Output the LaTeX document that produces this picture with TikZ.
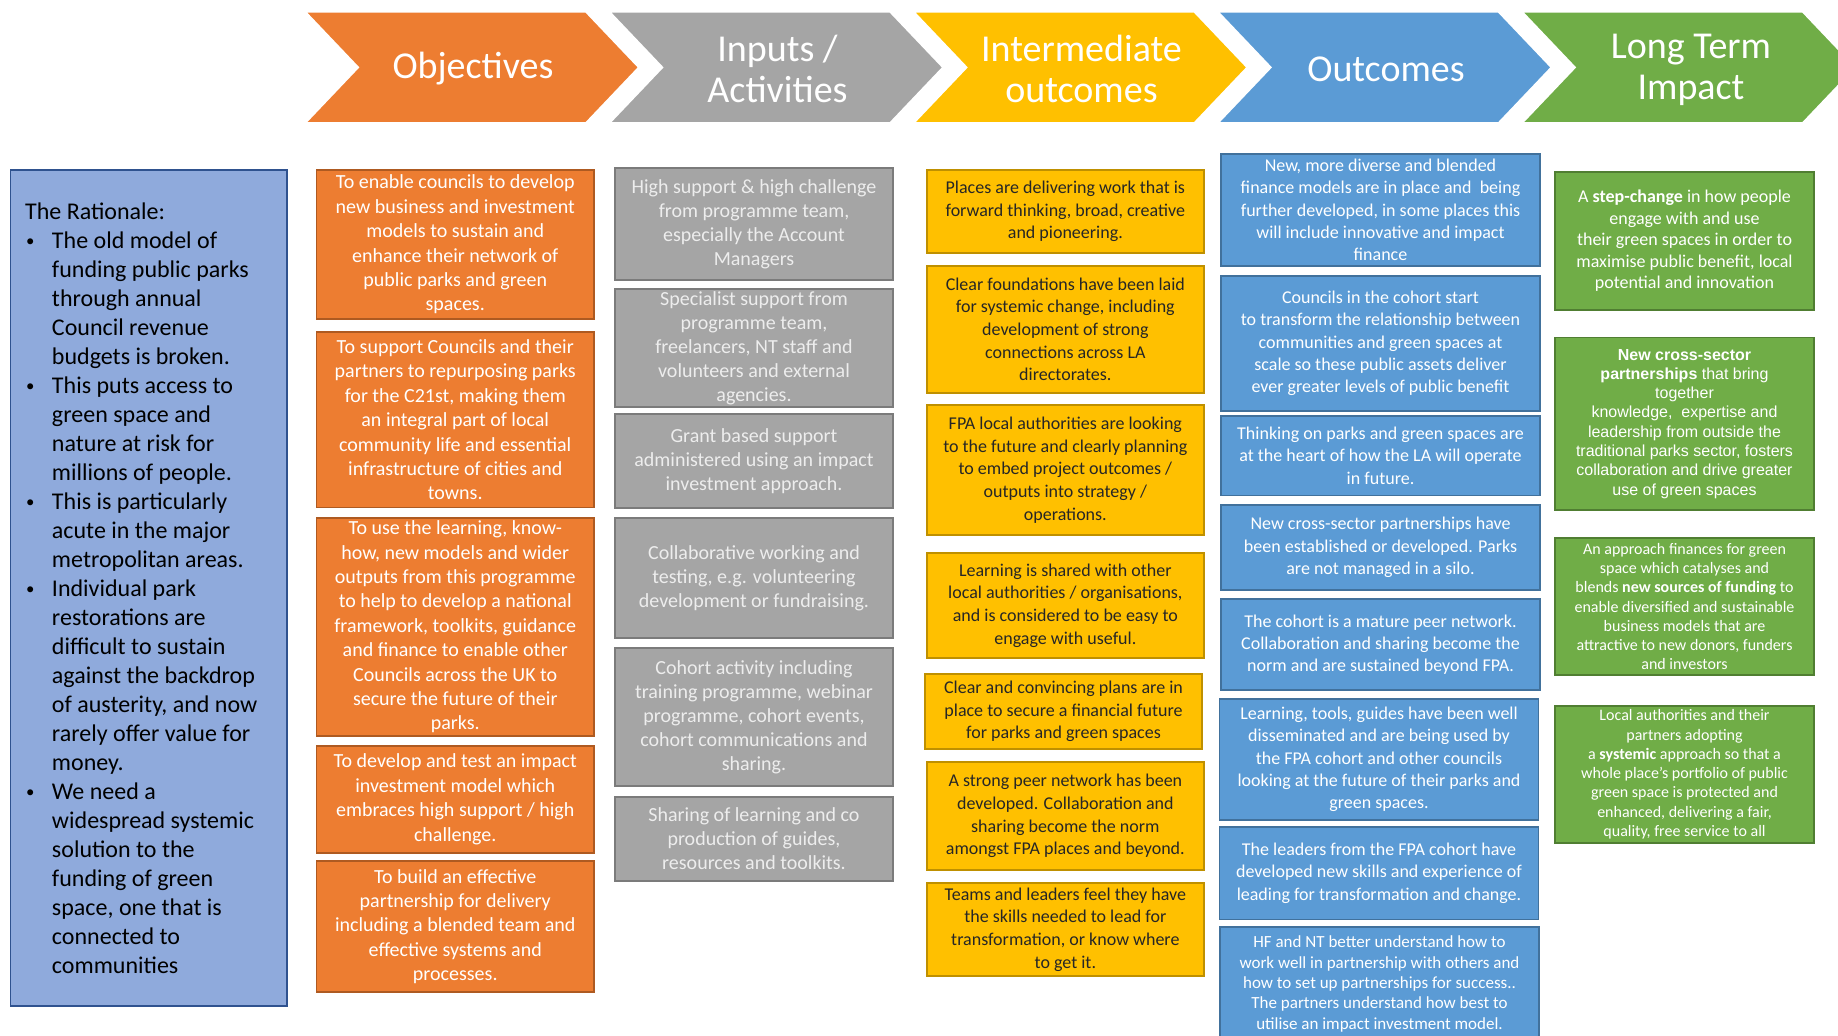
\documentclass[tikz,border=0pt]{standalone}
\usepackage{graphicx}
\usepackage{fontspec}
\setmainfont{Carlito}
\newfontfamily\arialfont{Liberation Sans}
\usetikzlibrary{positioning}

\definecolor{objC}{HTML}{ED7D31} \definecolor{objD}{HTML}{AE5A21}
\definecolor{inpC}{HTML}{A5A5A5} \definecolor{inpD}{HTML}{7B7B7B}
\definecolor{intC}{HTML}{FFC000} \definecolor{intD}{HTML}{BF9000}
\definecolor{outC}{HTML}{5B9BD5} \definecolor{outD}{HTML}{41719C}
\definecolor{impC}{HTML}{70AD47} \definecolor{impD}{HTML}{507E32}
\definecolor{ratC}{HTML}{8FAADC} \definecolor{ratD}{HTML}{2F528F}

\newcommand{\fsz}[2]{\fontsize{#1bp}{#2bp}\selectfont}
\newcommand{\rbul}{\makebox[26.9bp][l]{\hspace{1bp}\raisebox{1.5bp}{\scalebox{0.7}{\textbullet}}}}
\newcommand{\rind}{\hspace*{26.9bp}}

\begin{document}
\begin{tikzpicture}[x=1bp,y=-1bp]
    \tikzstyle{box}=[rectangle,draw,line width=1.8bp,inner sep=0pt,align=center]
    \tikzstyle{objbox}=[box,fill=objC,draw=objD,text=white,minimum width=277.5bp,font=\fsz{20}{24.4}]
    \tikzstyle{inpbox}=[box,fill=inpC,draw=inpD,text=white!93!black,minimum width=278bp,font=\fsz{20}{24}]
    \tikzstyle{intbox}=[box,fill=intC,draw=intD,text=black!85,minimum width=277.3bp,font=\fsz{18}{22.7}]
    \tikzstyle{outbox}=[box,fill=outC,draw=outD,text=white,minimum width=319bp,font=\fsz{18}{22.3}]
    \tikzstyle{impbox}=[box,fill=impC,draw=impD,text=white,minimum width=259bp,font=\fsz{16}{19.3}]
    \tikzstyle{head}=[text=white,align=center,font=\fsz{38}{41}]

    \useasboundingbox (0,0) rectangle (1838,1035);
    \clip (0,0) rectangle (1838,1035);

    % header arrows
    \foreach \num/\col in {0/objC,1/inpC,2/intC,3/outC,4/impC}
        \filldraw[fill=\col,draw=white,line width=2bp] ({305+304.2*\num},11.7) -- ++(281,0) -- ++(53,55.7) -- ++(-53,55.7) -- ++(-281,0) -- ++(53,-55.7) -- cycle;

    \node[head] (H-1) at (473,69) {Objectives};
    \node[head] (H-2) at (777.5,68.5) {Inputs /\\Activities};
    \node[head] (H-3) at (1081.5,68.5) {Intermediate\\outcomes};
    \node[head] (H-4) at (1386,69) {Outcomes};
    \node[head] (H-5) at (1691,69.5) {Long Term\\Impact};

    % rationale
    \node[box,fill=ratC,draw=ratD,minimum width=276.5bp,minimum height=836bp] (R) at (148.75,588) {};
    \node[anchor=west,align=left,inner sep=0pt,font=\fsz{24}{29}] (R-txt) at ([xshift=15.3bp]R.west) {%
        The Rationale:\\
        \rbul The old model of\\
        \rind funding public parks\\
        \rind through annual\\
        \rind Council revenue\\
        \rind budgets is broken.\\
        \rbul This puts access to\\
        \rind green space and\\
        \rind nature at risk for\\
        \rind millions of people.\\
        \rbul This is particularly\\
        \rind acute in the major\\
        \rind metropolitan areas.\\
        \rbul Individual park\\
        \rind restorations are\\
        \rind difficult to sustain\\
        \rind against the backdrop\\
        \rind of austerity, and now\\
        \rind rarely offer value for\\
        \rind money.\\
        \rbul We need a\\
        \rind widespread systemic\\
        \rind solution to the\\
        \rind funding of green\\
        \rind space, one that is\\
        \rind connected to\\
        \rind communities};

    % objectives
    \node[objbox,minimum height=149bp] (O-1) at (455.25,244.5) {To enable councils to develop\\new business and investment\\models to sustain and\\enhance their network of\\public parks and green\\spaces.};
    \node[objbox,minimum height=175.5bp] (O-2) at (455.25,419.75) {To support Councils and their\\partners to repurposing parks\\for the C21st, making them\\an integral part of local\\community life and essential\\infrastructure of cities and\\towns.};
    \node[objbox,minimum height=218bp] (O-3) at (455.25,627) {To use the learning, know-\\how, new models and wider\\outputs from this programme\\to help to develop a national\\framework, toolkits, guidance\\and finance to enable other\\Councils across the UK to\\secure the future of their\\parks.};
    \node[objbox,minimum height=106.7bp] (O-4) at (455.25,799.35) {To develop and test an impact\\investment model which\\embraces high support / high\\challenge.};
    \node[objbox,minimum height=131bp] (O-5) at (455.25,926.5) {To build an effective\\partnership for delivery\\including a blended team and\\effective systems and\\processes.};

    % inputs / activities
    \node[inpbox,minimum height=112bp] (I-1) at (754,224) {High support \& high challenge\\from programme team,\\especially the Account\\Managers};
    \node[inpbox,minimum height=118bp] (I-2) at (754,348) {Specialist support from\\programme team,\\freelancers, NT staff and\\volunteers and external\\agencies.};
    \node[inpbox,minimum height=94bp] (I-3) at (754,461) {Grant based support\\administered using an impact\\investment approach.};
    \node[inpbox,minimum height=120bp] (I-4) at (754,578) {Collaborative working and\\testing, e.g. volunteering\\development or fundraising.};
    \node[inpbox,minimum height=138bp] (I-5) at (754,717) {Cohort activity including\\training programme, webinar\\programme, cohort events,\\cohort communications and\\sharing.};
    \node[inpbox,minimum height=84bp] (I-6) at (754,839) {Sharing of learning and co\\production of guides,\\resources and toolkits.};

    % intermediate outcomes
    \node[intbox,minimum height=82.7bp] (M-1) at (1065.35,211.35) {Places are delivering work that is\\forward thinking, broad, creative\\and pioneering.};
    \node[intbox,minimum height=126.7bp] (M-2) at (1065.35,329.35) {Clear foundations have been laid\\for systemic change, including\\development of strong\\connections across LA\\directorates.};
    \node[intbox,minimum height=130bp] (M-3) at (1065.35,470) {FPA local authorities are looking\\to the future and clearly planning\\to embed project outcomes /\\outputs into strategy /\\operations.};
    \node[intbox,minimum height=104.7bp] (M-4) at (1065.35,605.35) {Learning is shared with other\\local authorities / organisations,\\and is considered to be easy to\\engage with useful.};
    \node[intbox,minimum height=75bp] (M-5) at (1063.5,711.5) {Clear and convincing plans are in\\place to secure a financial future\\for parks and green spaces};
    \node[intbox,minimum height=108bp] (M-6) at (1065.35,816) {A strong peer network has been\\developed. Collaboration and\\sharing become the norm\\amongst FPA places and beyond.};
    \node[intbox,minimum height=93bp] (M-7) at (1065.35,929.5) {Teams and leaders feel they have\\the skills needed to lead for\\transformation, or know where\\to get it.};

    % outcomes
    \node[outbox,minimum height=112bp] (C-1) at (1380.5,210) {New, more diverse and blended\\finance models are in place and \ being\\further developed, in some places this\\will include innovative and impact\\finance};
    \node[outbox,minimum height=135bp] (C-2) at (1380.5,343.5) {Councils in the cohort start\\to transform the relationship between\\communities and green spaces at\\scale so these public assets deliver\\ever greater levels of public benefit};
    \node[outbox,minimum height=79.5bp] (C-3) at (1380.5,455.75) {Thinking on parks and green spaces are\\at the heart of how the LA will operate\\in future.};
    \node[outbox,minimum height=85bp] (C-4) at (1380.5,547.5) {New cross-sector partnerships have\\been established or developed. Parks\\are not managed in a silo.};
    \node[outbox,minimum height=91bp] (C-5) at (1380.5,644.5) {The cohort is a mature peer network.\\Collaboration and sharing become the\\norm and are sustained beyond FPA.};
    \node[outbox,minimum height=121bp] (C-6) at (1379,759.5) {Learning, tools, guides have been well\\disseminated and are being used by\\the FPA cohort and other councils\\looking at the future of their parks and\\green spaces.};
    \node[outbox,minimum height=92.5bp] (C-7) at (1379,873.25) {The leaders from the FPA cohort have\\developed new skills and experience of\\leading for transformation and change.};
    \node[outbox,minimum height=114bp,font=\fsz{17}{20.3}] (C-8) at (1379.5,984) {HF and NT better understand how to\\work well in partnership with others and\\how to set up partnerships for success..\\The partners understand how best to\\utilise an impact investment model.};

    % long term impact
    \node[impbox,minimum height=138bp,font=\fsz{18}{21.5}] (L-1) at (1684.5,241) {A \textbf{step-change} in how people\\engage with and use\\their green spaces in order to\\maximise public benefit, local\\potential and innovation};
    \node[impbox,minimum height=172.5bp,font=\arialfont\fsz{16}{19.3}] (L-2) at (1684.5,423.75) {\textbf{New cross-sector}\\\textbf{partnerships} that bring\\together\\knowledge, \ expertise and\\leadership from outside the\\traditional parks sector, fosters\\collaboration and drive greater\\use of green spaces};
    \node[impbox,minimum height=137bp] (L-3) at (1684.5,606.5) {An approach finances for green\\space which catalyses and\\blends \textbf{new sources of funding} to\\enable diversified and sustainable\\business models that are\\attractive to new donors, funders\\and investors};
    \node[impbox,minimum height=137.3bp] (L-4) at (1684.5,774.35) {Local authorities and their\\partners adopting\\a \textbf{systemic} approach so that a\\whole place's portfolio of public\\green space is protected and\\enhanced, delivering a fair,\\quality, free service to all};
\end{tikzpicture}
\end{document}
